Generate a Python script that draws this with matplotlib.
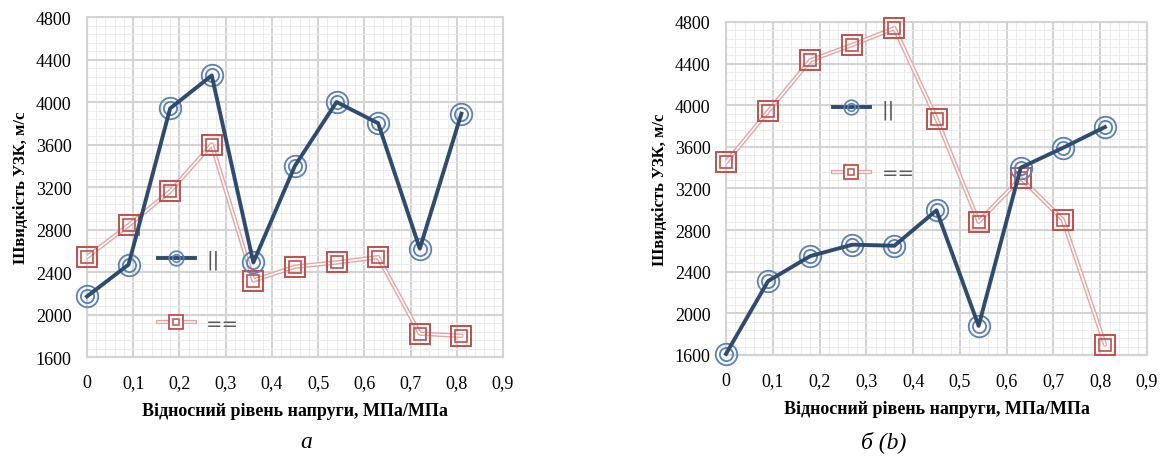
import numpy as np
import matplotlib.pyplot as plt
from matplotlib.lines import Line2D
from matplotlib.legend_handler import HandlerTuple
from matplotlib.ticker import MultipleLocator

# Дані
stress = [0, 0.09, 0.18, 0.27, 0.36, 0.45, 0.54, 0.63, 0.72, 0.81]
a_par = [2170, 2470, 3940, 4250, 2490, 3400, 4000, 3800, 2620, 3890]
a_perp = [2540, 2840, 3160, 3600, 2320, 2450, 2490, 2540, 1820, 1800]
b_par = [1610, 2310, 2550, 2660, 2650, 2990, 1880, 3400, 3590, 3790]
b_perp = [3450, 3940, 4430, 4580, 4740, 3870, 2880, 3300, 2900, 1700]

x_ticks = [0, 0.1, 0.2, 0.3, 0.4, 0.5, 0.6, 0.7, 0.8, 0.9]
x_labels = ['0', '0,1', '0,2', '0,3', '0,4', '0,5', '0,6', '0,7', '0,8', '0,9']
y_ticks = [1600, 2000, 2400, 2800, 3200, 3600, 4000, 4400, 4800]
legend_labels = ['||', '==']

BLUE_LINE = '#2f4b6e'
BLUE_MARK = '#5a80b8'
RED_LINE = '#e9a3a3'
RED_MARK = '#c0504d'
SERIF = 'Liberation Serif'


def draw_series(ax, x, par, perp):
    # червона подвійна лінія
    ax.plot(x, perp, color=RED_LINE, lw=3.2, zorder=3, solid_capstyle='round')
    ax.plot(x, perp, color='white', lw=1.2, zorder=3.1)
    ax.plot(x, perp, ls='none', marker='s', ms=14.5, mfc='none', mec=RED_MARK, mew=1.4,
            zorder=4, clip_on=False)
    ax.plot(x, perp, ls='none', marker='s', ms=8, mfc='none', mec=RED_MARK, mew=1.2,
            zorder=4, clip_on=False)
    # синя лінія з подвійними колами
    ax.plot(x, par, ls='none', marker='o', ms=15.5, mfc='none', mec=BLUE_MARK, mew=1.3,
            zorder=5, clip_on=False)
    ax.plot(x, par, ls='none', marker='o', ms=9.5, mfc='none', mec=BLUE_MARK, mew=1.3,
            zorder=5, clip_on=False)
    ax.plot(x, par, color=BLUE_LINE, lw=2.8, zorder=6, clip_on=False)


def style_axes(ax):
    ax.set_xlim(0, 0.9)
    ax.set_ylim(1600, 4800)
    ax.set_xticks(x_ticks)
    ax.set_xticklabels(x_labels, fontfamily=SERIF, fontsize=13)
    ax.set_yticks(y_ticks)
    ax.set_yticklabels([str(v) for v in y_ticks], fontfamily=SERIF, fontsize=13)
    ax.xaxis.set_minor_locator(MultipleLocator(0.02))
    ax.yaxis.set_minor_locator(MultipleLocator(80))
    ax.grid(which='major', color='#d4d4d4', lw=1.5, zorder=0)
    ax.grid(which='minor', color='#ececec', lw=0.7, zorder=0)
    ax.set_axisbelow(True)
    ax.tick_params(which='both', length=0)
    ax.tick_params(axis='y', pad=11)
    ax.tick_params(axis='x', pad=12)
    for s in ax.spines.values():
        s.set_color('#d4d4d4')
        s.set_linewidth(1.5)
    ax.set_xlabel('Відносний рівень напруги, МПа/МПа', fontfamily=SERIF,
                  fontweight='bold', fontsize=13, labelpad=8)
    ax.set_ylabel('Швидкість УЗК, м/с', fontfamily=SERIF,
                  fontweight='bold', fontsize=12, labelpad=5)


def add_legend(ax, anchor):
    h_par = (Line2D([], [], color=BLUE_LINE, lw=2.8),
             Line2D([], [], ls='none', marker='o', ms=10.5, mfc='none', mec=BLUE_MARK, mew=1.2),
             Line2D([], [], ls='none', marker='o', ms=5.5, mfc='none', mec=BLUE_MARK, mew=1.2))
    h_perp = (Line2D([], [], color=RED_LINE, lw=3),
              Line2D([], [], color='white', lw=1.1),
              Line2D([], [], ls='none', marker='s', ms=10, mfc='white', mec=RED_MARK, mew=1.3),
              Line2D([], [], ls='none', marker='s', ms=5, mfc='none', mec=RED_MARK, mew=1.1))
    ax.legend([h_par, h_perp], legend_labels, handler_map={tuple: HandlerTuple(ndivide=1, pad=0)},
              loc='center left', bbox_to_anchor=anchor, frameon=False,
              labelspacing=2.3, handlelength=1.9, handletextpad=0.6,
              borderpad=0, borderaxespad=0, labelcolor='#595959',
              prop={'family': 'DejaVu Sans', 'size': 14})


fig = plt.figure(figsize=(11.67, 4.64), dpi=100)
ax1 = fig.add_axes([0.0745, 0.2284, 0.3565, 0.7328])
ax2 = fig.add_axes([0.6221, 0.2328, 0.3608, 0.7177])

draw_series(ax1, stress, a_par, a_perp)
style_axes(ax1)
add_legend(ax1, (0.17, 0.193))

draw_series(ax2, stress, b_par, b_perp)
style_axes(ax2)
add_legend(ax2, (0.254, 0.643))

fig.text(0.262, 0.035, 'а', fontfamily=SERIF, fontstyle='italic', fontsize=17, ha='center')
fig.text(0.757, 0.035, 'б (b)', fontfamily=SERIF, fontstyle='italic', fontsize=17, ha='center')

fig.savefig('out.png', dpi=100)
